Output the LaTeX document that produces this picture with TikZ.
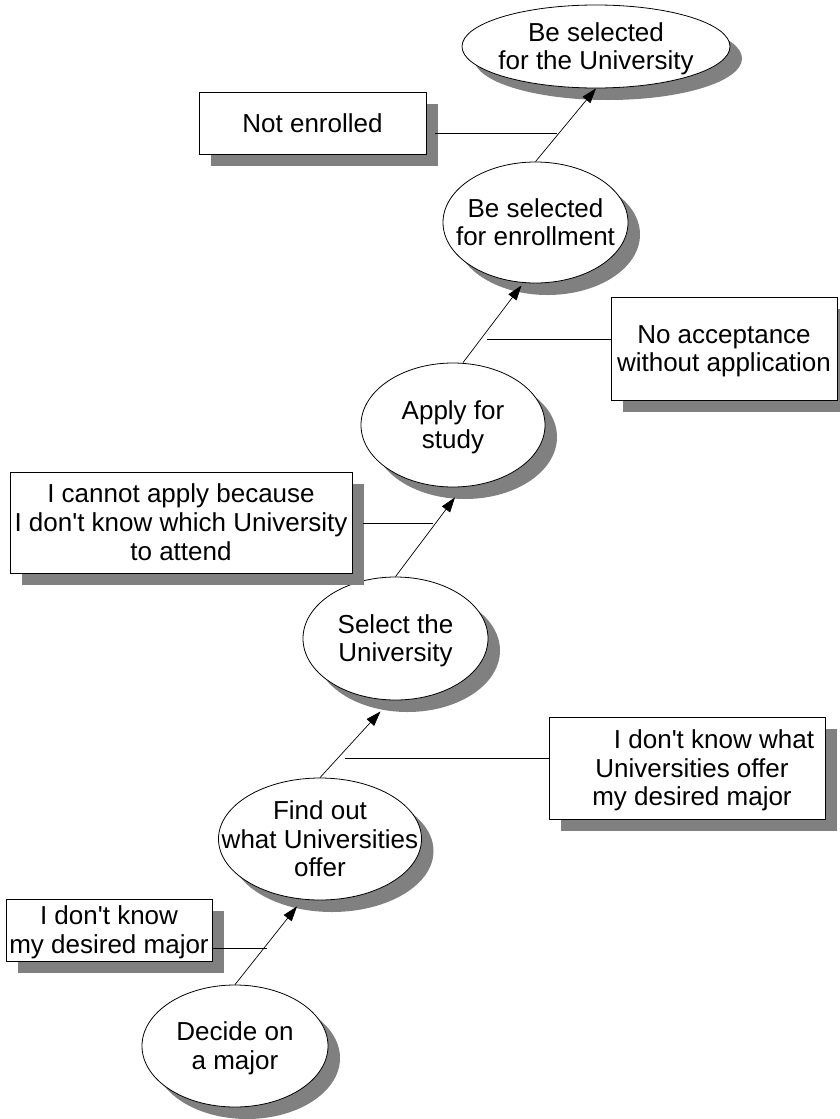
\documentclass[tikz,border=0pt]{standalone}
\usepackage{fontspec}
\setmainfont{Liberation Sans}
\usetikzlibrary{shapes.geometric,shadows,arrows.meta,calc}
\definecolor{shadowgray}{RGB}{128,128,128}
% centred multi-line label that does not widen its node, set a little lower
% so that it sits optically in the middle
\newcommand{\mtext}[2][0pt]{\raisebox{-3.4pt}[\height][\depth]{\makebox[0pt]{\hspace*{#1}\begin{tabular}{@{}c@{}}#2\end{tabular}}}}
\newcommand{\apos}{\textquotesingle}
\begin{document}
\begin{tikzpicture}[x=1pt,y=-1pt,
  font=\fontsize{26}{28.7}\selectfont,
  shade/.style={drop shadow={shadow xshift=12pt,shadow yshift=-12pt,fill=shadowgray,opacity=1}},
  ell/.style={ellipse,draw,fill=white,line width=0.8pt,inner sep=0pt,shade},
  box/.style={rectangle,draw,fill=white,line width=0.8pt,inner sep=0pt,shade},
  arr/.style={-{Triangle[length=15pt,width=10pt]},line width=0.7pt},
  link/.style={line width=0.7pt}]
\useasboundingbox (0,0) rectangle (840,1119);

% goals along the path
\node[ell,minimum width=268,minimum height=83] (uni) at (596,46.5) {\mtext{Be selected\\for the University}};
\node[ell,minimum width=185,minimum height=121] (enr) at (535.5,222.5) {\mtext{Be selected\\for enrollment}};
\node[ell,minimum width=184,minimum height=124] (app) at (453,425) {\mtext{Apply for\\study}};
\node[ell,minimum width=185,minimum height=123] (sel) at (395.5,638.5) {\mtext{Select the\\University}};
\node[ell,minimum width=203,minimum height=122] (fnd) at (320,839) {\mtext{Find out\\what Universities\\offer}};
\node[ell,minimum width=186,minimum height=122] (dec) at (235,1046) {\mtext{Decide on\\a major}};

% obstacles
\node[box,minimum width=227,minimum height=62] (ne) at (312.5,123) {\mtext{Not enrolled}};
\node[box,minimum width=226,minimum height=103] (na) at (724,348.5) {\mtext{No acceptance\\without application}};
\node[box,minimum width=342,minimum height=101] (ic) at (181,522.5) {\mtext{I cannot apply because\\I don\apos t know which University\\to attend}};
\node[box,minimum width=276,minimum height=102] (uo) at (687,768) {\mtext[10pt]{\hspace*{44pt}I don\apos t know what\\Universities offer\\my desired major}};
\node[box,minimum width=206,minimum height=62] (dm) at (109,930) {\mtext{I don\apos t know\\my desired major}};

% steps
\draw[arr] (enr.north) -- (uni.south);
\draw[arr] ($(app.north)+(10,0)$) -- ($(enr.south)+(-14,2)$);
\draw[arr] (sel.north) -- ($(app.south)+(2,10)$);
\draw[arr] (fnd.north) -- ($(sel.south)+(-15,11)$);
\draw[arr] (dec.north) -- ($(fnd.south)+(-23,6)$);

% obstacle links
\coordinate (j1) at (557,133);
\coordinate (j2) at (487,339);
\coordinate (j3) at (433,523);
\coordinate (j4) at (345,758);
\coordinate (j5) at (267,948);
\draw[link] ($(ne.east)+(9,10)$) -- (j1);
\draw[link] (j2) -- (j2 -| na.west);
\draw[link] ($(ic.east)+(11,0.5)$) -- (j3);
\draw[link] (j4) -- (j4 -| uo.west);
\draw[link] ($(dm.east)+(0,18)$) -- (j5);
\end{tikzpicture}
\end{document}
